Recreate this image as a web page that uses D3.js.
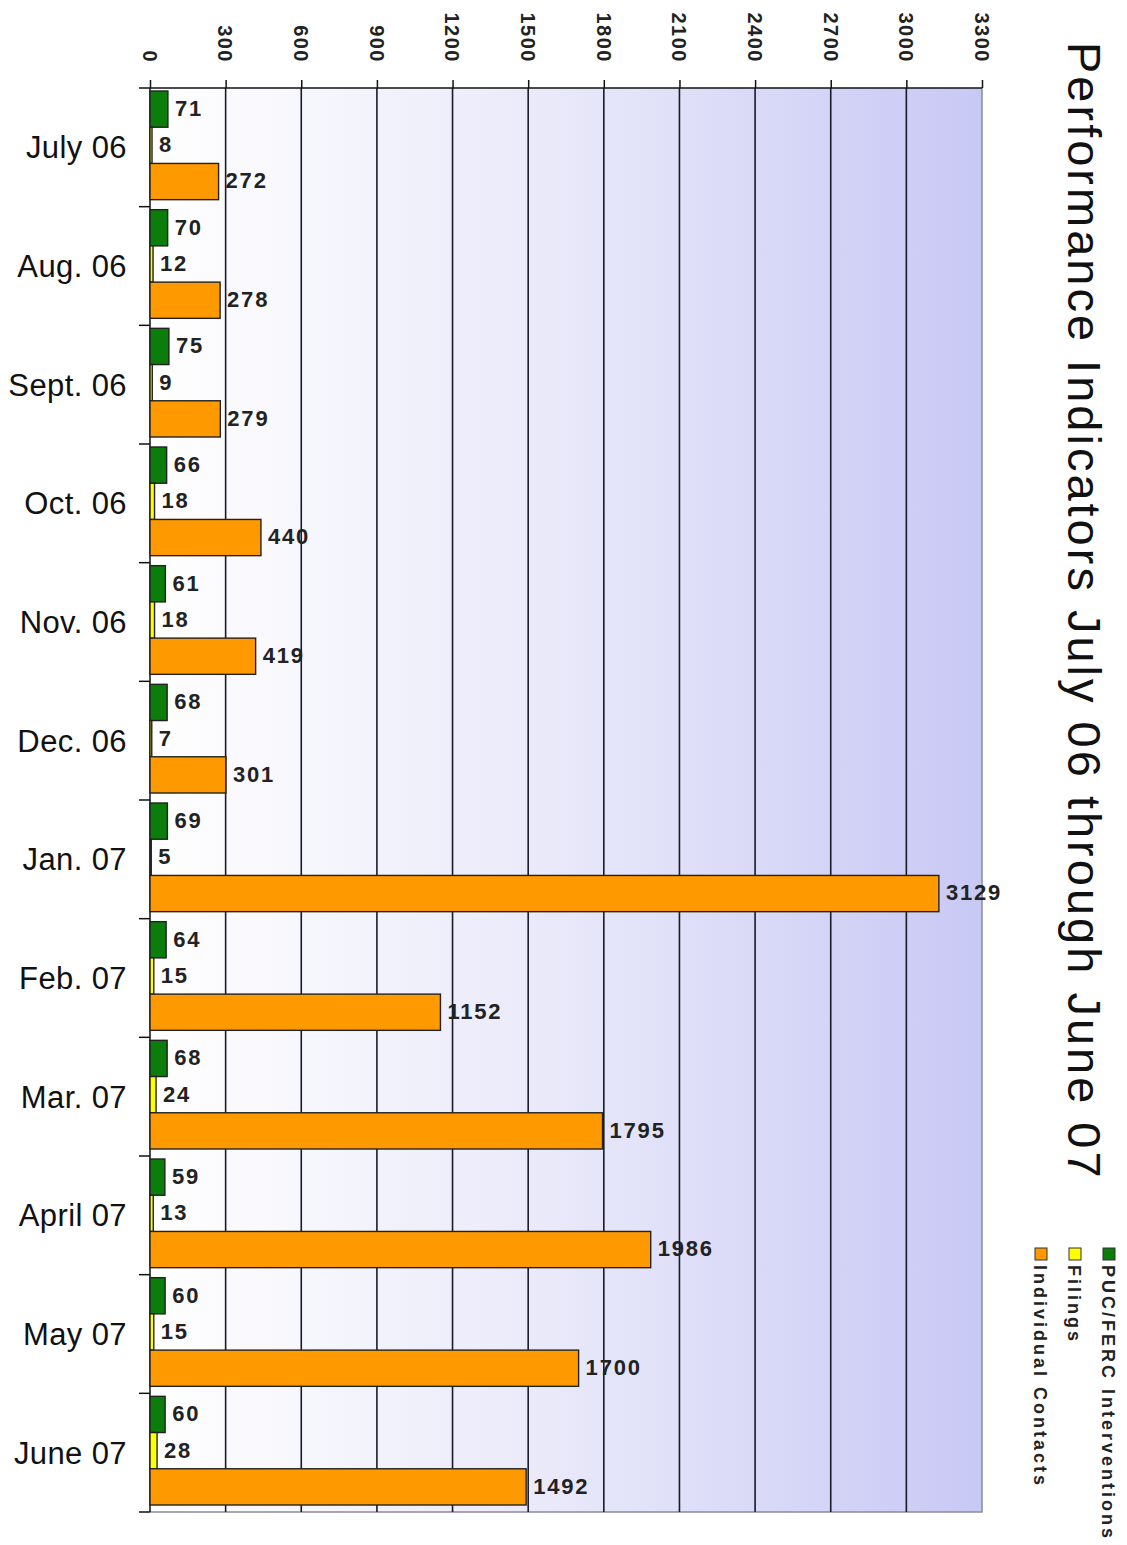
<!DOCTYPE html>
<html>
<head>
<meta charset="utf-8">
<script src="https://cdn.jsdelivr.net/npm/d3@7"></script>
<style>
  html, body { margin: 0; padding: 0; background: #ffffff; }
  svg { display: block; }
</style>
</head>
<body>
<svg id="chart" width="1127" height="1545"></svg>
<script>
// ---- data ----
const categories = ["July 06", "Aug. 06", "Sept. 06", "Oct. 06", "Nov. 06", "Dec. 06",
                    "Jan. 07", "Feb. 07", "Mar. 07", "April 07", "May 07", "June 07"];
const seriesNames = ["PUC/FERC Interventions", "Filings", "Individual Contacts"];
const pucFerc = [71, 70, 75, 66, 61, 68, 69, 64, 68, 59, 60, 60];
const filings = [8, 12, 9, 18, 18, 7, 5, 15, 24, 13, 15, 28];
const individual = [272, 278, 279, 440, 419, 301, 3129, 1152, 1795, 1986, 1700, 1492];
const tickValues = [0, 300, 600, 900, 1200, 1500, 1800, 2100, 2400, 2700, 3000, 3300];
const titleText = "Performance Indicators July 06 through June 07";

const seriesValues = [pucFerc, filings, individual];
const seriesColors = ["#0a7d0a", "#ffff00", "#ff9900"];

// ---- layout ----
const svg = d3.select("#chart");
const pLeft = 150, pRight = 982, pTop = 88, pBottom = 1512;

const x = d3.scaleLinear().domain([0, 3300]).range([pLeft, pRight]);
const y = d3.scaleBand().domain(categories).range([pTop, pBottom]).padding(0);
const inner = d3.scaleBand().domain(seriesNames).range([3, y.bandwidth() - 7]).padding(0);

// background gradient
const defs = svg.append("defs");
const grad = defs.append("linearGradient").attr("id", "bg")
  .attr("x1", "0%").attr("x2", "100%").attr("y1", "0%").attr("y2", "0%");
grad.append("stop").attr("offset", "0%").attr("stop-color", "#ffffff");
grad.append("stop").attr("offset", "50%").attr("stop-color", "#e8e8fa");
grad.append("stop").attr("offset", "100%").attr("stop-color", "#c8c8f5");

svg.append("rect")
  .attr("x", pLeft).attr("y", pTop)
  .attr("width", pRight - pLeft).attr("height", pBottom - pTop)
  .attr("fill", "url(#bg)");

// plot border right & bottom
svg.append("path")
  .attr("d", `M${pRight},${pTop}V${pBottom}H${pLeft}`)
  .attr("fill", "none").attr("stroke", "#8a8a9a").attr("stroke-width", 1.5);

// gridlines
svg.append("g").selectAll("line")
  .data(tickValues.slice(1, -1))
  .join("line")
  .attr("x1", d => x(d)).attr("x2", d => x(d))
  .attr("y1", pTop).attr("y2", pBottom)
  .attr("stroke", "#1a1a2a").attr("stroke-width", 1.6);

// top axis
const axisG = svg.append("g").attr("transform", `translate(0,${pTop})`)
  .call(d3.axisTop(x).tickValues(tickValues).tickSize(8).tickSizeOuter(0).tickFormat(""));
axisG.select(".domain").remove();
axisG.selectAll(".tick line").attr("stroke", "#111").attr("stroke-width", 1.5);
axisG.append("line").attr("x1", pLeft - 11).attr("x2", pRight).attr("y1", 0).attr("y2", 0)
  .attr("stroke", "#111").attr("stroke-width", 1.5);

// rotated tick labels
svg.append("g").selectAll("text")
  .data(tickValues)
  .join("text")
  .attr("transform", d => `translate(${x(d)},63) rotate(90)`)
  .attr("text-anchor", "end")
  .attr("dy", "0.36em")
  .attr("font-family", "Liberation Sans, Arial, sans-serif")
  .attr("font-weight", "bold")
  .attr("font-size", 20)
  .attr("letter-spacing", 1.5)
  .attr("fill", "#222")
  .text(d => d);

// left axis line and category ticks
svg.append("line").attr("x1", pLeft).attr("x2", pLeft).attr("y1", pTop).attr("y2", pBottom)
  .attr("stroke", "#111").attr("stroke-width", 1.5);
svg.append("g").selectAll("line")
  .data(categories)
  .join("line")
  .attr("x1", pLeft - 11).attr("x2", pLeft)
  .attr("y1", d => y(d) + y.bandwidth()).attr("y2", d => y(d) + y.bandwidth())
  .attr("stroke", "#111").attr("stroke-width", 1.5);

// category labels
svg.append("g").selectAll("text")
  .data(categories)
  .join("text")
  .attr("x", 127)
  .attr("y", d => y(d) + y.bandwidth() / 2)
  .attr("dy", "0.35em")
  .attr("text-anchor", "end")
  .attr("font-family", "Liberation Sans, Arial, sans-serif")
  .attr("font-size", 31)
  .attr("letter-spacing", 0.4)
  .attr("fill", "#111")
  .text(d => d);

// bars
const barData = [];
categories.forEach((c, i) => {
  seriesNames.forEach((s, j) => {
    barData.push({ cat: c, series: s, value: seriesValues[j][i], color: seriesColors[j] });
  });
});

svg.append("g").selectAll("rect")
  .data(barData)
  .join("rect")
  .attr("x", x(0))
  .attr("y", d => y(d.cat) + inner(d.series))
  .attr("width", d => x(d.value) - x(0))
  .attr("height", inner.bandwidth())
  .attr("fill", d => d.color)
  .attr("stroke", "#222")
  .attr("stroke-width", 1.4);

// value labels
svg.append("g").selectAll("text")
  .data(barData)
  .join("text")
  .attr("x", d => x(d.value) + 7)
  .attr("y", d => y(d.cat) + inner(d.series) + inner.bandwidth() / 2 - 1)
  .attr("dy", "0.36em")
  .attr("font-family", "Liberation Sans, Arial, sans-serif")
  .attr("font-weight", "bold")
  .attr("font-size", 22)
  .attr("letter-spacing", 1.8)
  .attr("fill", "#222")
  .text(d => d.value);

// title (rotated)
svg.append("text")
  .attr("transform", "translate(1068,42) rotate(90)")
  .attr("text-anchor", "start")
  .attr("font-family", "Liberation Sans, Arial, sans-serif")
  .attr("font-size", 47)
  .attr("letter-spacing", 3)
  .attr("fill", "#111")
  .text(titleText);

// legend (rotated)
const legendX = [1102, 1068, 1034];
const legend = svg.append("g").selectAll("g")
  .data(seriesNames)
  .join("g")
  .attr("transform", (d, i) => `translate(${legendX[i]},1248) rotate(90)`);
legend.append("rect")
  .attr("x", 0).attr("y", -13).attr("width", 12).attr("height", 12)
  .attr("fill", (d, i) => seriesColors[i])
  .attr("stroke", "#333").attr("stroke-width", 1);
legend.append("text")
  .attr("x", 17).attr("y", 0)
  .attr("font-family", "Liberation Sans, Arial, sans-serif")
  .attr("font-weight", "bold")
  .attr("font-size", 18)
  .attr("letter-spacing", 3)
  .attr("fill", "#222")
  .text(d => d);
</script>
</body>
</html>
